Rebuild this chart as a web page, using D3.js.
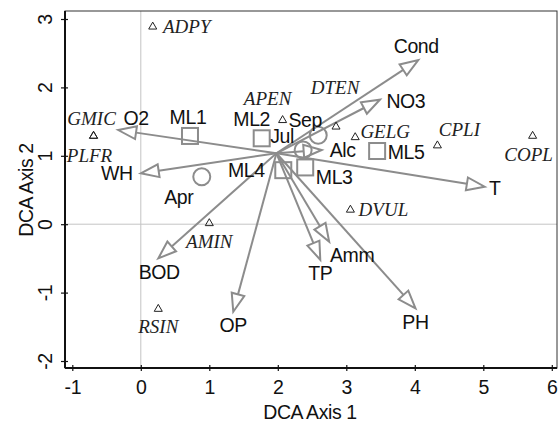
<!DOCTYPE html>
<html><head><meta charset="utf-8">
<script src="https://cdn.jsdelivr.net/npm/d3@7"></script>
<style>body{margin:0;background:#fff;} svg{display:block;}</style>
</head><body>
<svg id="chart" width="558" height="423"></svg>
<script>
// ---------- data ----------
const xTicks = [-1, 0, 1, 2, 3, 4, 5, 6];
const yTicks = [-2, -1, 0, 1, 2, 3];
const xTitle = "DCA Axis 1";
const yTitle = "DCA Axis 2";

const arrowOrigin = [1.98, 1.037];
const envVars = ["O2", "WH", "Cond", "NO3", "Alc", "T", "BOD", "OP", "TP", "Amm", "PH"];
const envX = [-0.33, 0.0, 4.05, 3.49, 2.64, 5.02, 0.255, 1.35, 2.62, 2.75, 4.01];
const envY = [1.377, 0.744, 2.40, 1.82, 1.085, 0.548, -0.50, -1.28, -0.52, -0.256, -1.23];

const sites = ["ML1", "ML2", "ML4", "ML3", "ML5"];
const siteX = [0.718, 1.765, 2.08, 2.40, 3.45];
const siteY = [1.29, 1.256, 0.79, 0.83, 1.07];

const months = ["Apr", "Jul", "Sep"];
const monthX = [0.89, 2.37, 2.59];
const monthY = [0.694, 1.085, 1.30];

const species = ["ADPY", "GMIC", "PLFR", "APEN", "DTEN", "GELG", "CPLI", "COPL", "DVUL", "AMIN", "RSIN"];
const speciesX = [0.174, -0.69, -0.69, 2.07, 2.85, 3.13, 4.33, 5.72, 3.06, 1.0, 0.255];
const speciesY = [2.887, 1.29, 1.29, 1.52, 1.425, 1.27, 1.15, 1.29, 0.21, 0.013, -1.24];

// ---------- layout / style (pixel label offsets) ----------
const envLabelOff = {O2:[18,-12], WH:[-24,0], Cond:[-2,-14], NO3:[26,1], Alc:[21,0], T:[10,1],
  BOD:[1,14], OP:[0,13], TP:[0,13], Amm:[23,13], PH:[0,14]};
const siteLabelOff = {ML1:[-2,-19], ML2:[-10,-19], ML4:[-37,0], ML3:[29,10], ML5:[29,1]};
const monthLabelOff = {Apr:[-23,20], Jul:[-21,-14], Sep:[-13,-15]};
const speciesLabelOff = {ADPY:[34,0], GMIC:[-2,-18], PLFR:[-4,19], APEN:[-15,-22], DTEN:[-1,-39],
  GELG:[30,-6], CPLI:[22,-16], COPL:[-4,18], DVUL:[33,0], AMIN:[0,18], RSIN:[0,17]};

const gray = "#8c8c8c";
const sansFont = "'Liberation Sans', Arial, sans-serif";
const serifFont = "'Liberation Serif', 'Times New Roman', serif";
const sansSize = 19.5, serifSize = 19;

const svg = d3.select("#chart");
const frame = {left: 65, right: 557, top: 11, bottom: 368};
const x = d3.scaleLinear().domain([-1, 6]).range([72.3, 551.8]);
const y = d3.scaleLinear().domain([-2, 3]).range([361, 19]);

function sansText(sel) {
  return sel.attr("font-family", sansFont).attr("font-size", sansSize)
    .attr("letter-spacing", "-0.4px").attr("fill", "#111");
}

// reference lines
svg.append("line").attr("x1", x(0)).attr("x2", x(0)).attr("y1", frame.top).attr("y2", frame.bottom)
  .attr("stroke", "#c4c4c4").attr("stroke-width", 1);
svg.append("line").attr("x1", frame.left).attr("x2", frame.right).attr("y1", y(0)).attr("y2", y(0))
  .attr("stroke", "#c4c4c4").attr("stroke-width", 1);

// frame
svg.append("rect").attr("x", frame.left).attr("y", frame.top)
  .attr("width", frame.right - frame.left).attr("height", frame.bottom - frame.top)
  .attr("fill", "none").attr("stroke", "#333").attr("stroke-width", 1);

// axes
const xAxis = d3.axisBottom(x).tickValues(xTicks).tickSizeInner(4).tickSizeOuter(0).tickPadding(5);
const gx = svg.append("g").attr("transform", `translate(0,${frame.bottom})`).call(xAxis);
gx.select(".domain").attr("d", `M${frame.left},0H${frame.right}`).attr("stroke", "#111").attr("stroke-width", 2);
gx.selectAll(".tick line").attr("y1", -3).attr("y2", 3).attr("stroke", "#111").attr("stroke-width", 1.2);
gx.selectAll(".tick text").attr("y", 12).attr("dy", "0.71em").call(sansText)
  .text(d => d < 0 ? "-" + Math.abs(d) : d);

const yAxis = d3.axisLeft(y).tickValues(yTicks).tickSizeInner(4).tickSizeOuter(0);
const gy = svg.append("g").attr("transform", `translate(${frame.left},0)`).call(yAxis);
gy.select(".domain").attr("d", `M0,${frame.top}V${frame.bottom}`).attr("stroke", "#111").attr("stroke-width", 2);
gy.selectAll(".tick line").attr("x1", -4).attr("x2", 3).attr("stroke", "#111").attr("stroke-width", 1.2);
gy.selectAll(".tick text").attr("x", null).attr("dy", null)
  .attr("transform", "translate(-13,0) rotate(-90)").attr("text-anchor", "middle")
  .call(sansText)
  .text(d => d < 0 ? "-" + Math.abs(d) : d);

// axis titles
svg.append("text").attr("x", 310).attr("y", 419).attr("text-anchor", "middle")
  .call(sansText).text(xTitle);
svg.append("text").attr("transform", "translate(33,190) rotate(-90)").attr("text-anchor", "middle")
  .call(sansText).text(yTitle);

// arrows
const ox = x(arrowOrigin[0]), oy = y(arrowOrigin[1]);
const headL = 18, headW = 13;
const gA = svg.append("g");
envVars.forEach((name, i) => {
  const tx = x(envX[i]), ty = y(envY[i]);
  const dx = tx - ox, dy = ty - oy, len = Math.hypot(dx, dy);
  const ux = dx / len, uy = dy / len, nx = -uy, ny = ux;
  const bx = tx - ux * headL, by = ty - uy * headL;
  gA.append("line").attr("x1", ox).attr("y1", oy).attr("x2", bx).attr("y2", by)
    .attr("stroke", gray).attr("stroke-width", 2);
  gA.append("path").attr("d", `M${tx},${ty}L${bx + nx * headW / 2},${by + ny * headW / 2}L${bx - nx * headW / 2},${by - ny * headW / 2}Z`)
    .attr("fill", "none").attr("stroke", gray).attr("stroke-width", 2).attr("stroke-linejoin", "miter");
  const o = envLabelOff[name];
  svg.append("text").attr("x", tx + o[0]).attr("y", ty + o[1]).attr("dy", "0.35em").attr("text-anchor", "middle")
    .call(sansText).text(name);
});

// sites (squares)
sites.forEach((name, i) => {
  const cx = x(siteX[i]), cy = y(siteY[i]), s = 16;
  svg.append("rect").attr("x", cx - s / 2).attr("y", cy - s / 2).attr("width", s).attr("height", s)
    .attr("fill", "none").attr("stroke", gray).attr("stroke-width", 2);
  const o = siteLabelOff[name];
  svg.append("text").attr("x", cx + o[0]).attr("y", cy + o[1]).attr("dy", "0.35em").attr("text-anchor", "middle")
    .call(sansText).text(name);
});

// months (circles)
months.forEach((name, i) => {
  const cx = x(monthX[i]), cy = y(monthY[i]);
  svg.append("circle").attr("cx", cx).attr("cy", cy).attr("r", 8.5)
    .attr("fill", "none").attr("stroke", gray).attr("stroke-width", 2);
  const o = monthLabelOff[name];
  svg.append("text").attr("x", cx + o[0]).attr("y", cy + o[1]).attr("dy", "0.35em").attr("text-anchor", "middle")
    .call(sansText).text(name);
});

// species (triangles)
const tri = d3.symbol().type(d3.symbolTriangle).size(28);
species.forEach((name, i) => {
  const cx = x(speciesX[i]), cy = y(speciesY[i]);
  svg.append("path").attr("d", tri()).attr("transform", `translate(${cx},${cy})`)
    .attr("fill", "none").attr("stroke", "#222").attr("stroke-width", 1);
  const o = speciesLabelOff[name];
  svg.append("text").attr("x", cx + o[0]).attr("y", cy + o[1]).attr("dy", "0.35em").attr("text-anchor", "middle")
    .attr("font-family", serifFont).attr("font-style", "italic").attr("font-size", serifSize).attr("fill", "#222").text(name);
});
</script>
</body></html>
